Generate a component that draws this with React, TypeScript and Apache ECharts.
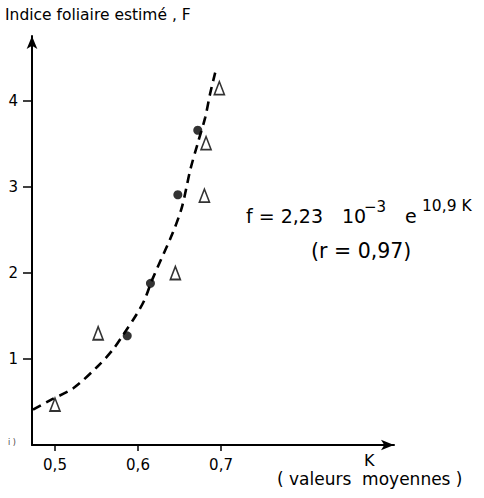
import React, { useEffect, useRef } from "react";
import * as echarts from "echarts";

// Open triangles (K, F)
const triK = [0.5, 0.552, 0.645, 0.68, 0.682, 0.698];
const triF = [0.47, 1.3, 2.0, 2.9, 3.51, 4.15];
// Filled dots (K, F)
const dotK = [0.587, 0.615, 0.648, 0.672];
const dotF = [1.27, 1.88, 2.91, 3.66];
// Fitted curve
const curveK = [0.4735, 0.494, 0.522, 0.551, 0.569, 0.582, 0.599, 0.608, 0.617, 0.642, 0.653, 0.663, 0.672, 0.681, 0.687, 0.693];
const curveF = [0.41, 0.52, 0.66, 0.91, 1.1, 1.28, 1.53, 1.69, 1.92, 2.47, 2.77, 3.2, 3.51, 3.81, 4.09, 4.33];
const xTicks = [0.5, 0.6, 0.7];
const yTicks = [1, 2, 3, 4];

const FONT = "DejaVu Sans";

export default function App() {
  const ref = useRef<HTMLDivElement>(null);
  useEffect(() => {
    if (!ref.current) return;
    const chart = echarts.init(ref.current, null, { renderer: "svg" });
    const zip = (a: number[], b: number[]) => a.map((v, i) => [v, b[i]]);
    chart.setOption({
      animation: false,
      backgroundColor: "#fff",
      grid: { left: 32, right: 90, top: 36, bottom: 53 },
      xAxis: {
        type: "value",
        min: 0.4723,
        max: 0.9084,
        splitLine: { show: false },
        axisLine: {
          show: true,
          onZero: false,
          symbol: ["none", "arrow"],
          symbolSize: [8, 13],
          lineStyle: { color: "#000", width: 2 },
        },
        axisTick: { show: true, customValues: xTicks, length: 6, lineStyle: { color: "#000", width: 1.5 } },
        axisLabel: {
          customValues: xTicks,
          margin: 12,
          color: "#000",
          fontSize: 15,
          fontFamily: FONT,
          formatter: (v: number) => v.toFixed(1).replace(".", ","),
        },
      },
      yAxis: {
        type: "value",
        min: 0,
        max: 4.756,
        splitLine: { show: false },
        axisLine: {
          show: true,
          onZero: false,
          symbol: ["none", "arrow"],
          symbolSize: [8, 13],
          lineStyle: { color: "#000", width: 2 },
        },
        axisTick: { show: true, customValues: yTicks, length: 9, lineStyle: { color: "#000", width: 1.5 } },
        axisLabel: {
          customValues: yTicks,
          margin: 14,
          color: "#000",
          fontSize: 15,
          fontFamily: FONT,
        },
      },
      series: [
        {
          type: "line",
          data: zip(curveK, curveF),
          smooth: 0.3,
          showSymbol: false,
          lineStyle: { color: "#000", width: 2.6, type: [9, 6] },
          z: 1,
        },
        {
          type: "scatter",
          data: zip(triK, triF),
          symbol: "triangle",
          symbolSize: [10, 13],
          itemStyle: { color: "#fff", borderColor: "#000", borderWidth: 1.7 },
          z: 3,
        },
        {
          type: "scatter",
          data: zip(dotK, dotF),
          symbol: "circle",
          symbolSize: 9,
          itemStyle: { color: "#000" },
          z: 3,
        },
      ],
      graphic: [
        { type: "text", left: 5, top: 7, style: { text: "Indice foliaire estimé , F", fontSize: 15.5, fontFamily: FONT, fill: "#000" } },
        { type: "text", left: 8, top: 438, style: { text: "i )", fontSize: 8, fontFamily: FONT, fill: "#444" } },
        { type: "text", left: 364, top: 452, style: { text: "K", fontSize: 16, fontFamily: FONT, fill: "#000" } },
        { type: "text", left: 277, top: 470, style: { text: "( valeurs  moyennes )", fontSize: 17, fontFamily: FONT, fill: "#000" } },
        { type: "text", left: 246, top: 206, style: { text: "f = 2,23", fontSize: 19, fontFamily: FONT, fill: "#000" } },
        { type: "text", left: 342, top: 206, style: { text: "10", fontSize: 19, fontFamily: FONT, fill: "#000" } },
        { type: "text", left: 364, top: 199, style: { text: "−3", fontSize: 15, fontFamily: FONT, fill: "#000" } },
        { type: "text", left: 405, top: 206, style: { text: "e", fontSize: 19, fontFamily: FONT, fill: "#000" } },
        { type: "text", left: 422, top: 198, style: { text: "10,9 K", fontSize: 15.5, fontFamily: FONT, fill: "#000" } },
        { type: "text", left: 311, top: 240, style: { text: "(r = 0,97)", fontSize: 20.5, fontFamily: FONT, fill: "#000" } },
      ],
    });
    return () => chart.dispose();
  }, []);
  return <div ref={ref} style={{ width: 484, height: 498, position: "absolute", left: 0, top: 0 }} />;
}
